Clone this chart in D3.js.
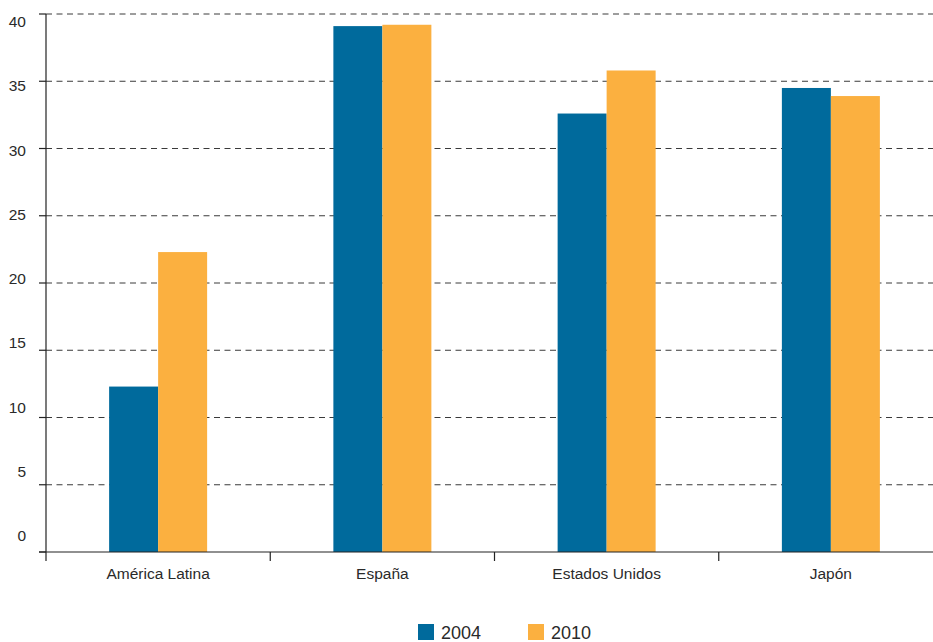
<!DOCTYPE html>
<html>
<head>
<meta charset="utf-8">
<script src="https://cdn.jsdelivr.net/npm/d3@7"></script>
<style>
  html, body { margin: 0; padding: 0; background: #fff; }
  svg { display: block; }
  text { font-family: "Liberation Sans", Arial, sans-serif; fill: #2a2a2a; }
</style>
</head>
<body>
<svg id="chart" width="933" height="642"></svg>
<script>
const categories = ["América Latina", "España", "Estados Unidos", "Japón"];
const seriesNames = ["2004", "2010"];
const values2004 = [12.3, 39.1, 32.6, 34.5];
const values2010 = [22.3, 39.2, 35.8, 33.9];
const yTicks = [0, 5, 10, 15, 20, 25, 30, 35, 40];
const colors = ["#006a9c", "#fbb040"];

const svg = d3.select("#chart");
const mLeft = 46, mRight = 943, mTop = 14, mBottom = 552;

const y = d3.scaleLinear().domain([0, 40]).range([mBottom, mTop]);
const yLabel = d3.scaleLinear().domain([0, 40]).range([541, 27]);
const x0 = d3.scaleBand().domain(categories).range([mLeft, mRight]).padding(0);
const groupW = 98;
const x1 = d3.scaleBand().domain(seriesNames).range([0, groupW]).padding(0);

// gridlines
svg.append("g").selectAll("line").data(yTicks.filter(d => d > 0)).join("line")
  .attr("x1", mLeft).attr("x2", mRight)
  .attr("y1", d => y(d)).attr("y2", d => y(d))
  .attr("stroke", "#3a3a3a").attr("stroke-width", 1)
  .attr("stroke-dasharray", "6,4.5");

// bars
const data = categories.map((c, i) => ({ c, vals: [values2004[i], values2010[i]] }));
const groups = svg.append("g").selectAll("g").data(data).join("g")
  .attr("transform", d => `translate(${x0(d.c) + (x0.bandwidth() - groupW) / 2},0)`);
groups.selectAll("rect").data(d => d.vals.map((v, j) => ({ s: seriesNames[j], v, j })))
  .join("rect")
  .attr("x", d => x1(d.s))
  .attr("width", x1.bandwidth())
  .attr("y", d => y(d.v))
  .attr("height", d => y(0) - y(d.v))
  .attr("fill", d => colors[d.j]);

// y axis
svg.append("line").attr("x1", mLeft).attr("x2", mLeft).attr("y1", mTop).attr("y2", mBottom + 9)
  .attr("stroke", "#222").attr("stroke-width", 1.2);
svg.append("g").selectAll("line").data(yTicks).join("line")
  .attr("x1", mLeft - 7).attr("x2", mLeft)
  .attr("y1", d => y(d)).attr("y2", d => y(d))
  .attr("stroke", "#222").attr("stroke-width", 1.2);
svg.append("g").selectAll("text").data(yTicks).join("text")
  .attr("x", 26).attr("y", d => yLabel(d))
  .attr("text-anchor", "end")
  .attr("font-size", 15.5)
  .text(d => d);

// x axis
svg.append("line").attr("x1", mLeft - 7).attr("x2", mRight).attr("y1", mBottom).attr("y2", mBottom)
  .attr("stroke", "#222").attr("stroke-width", 1.2);
svg.append("g").selectAll("line").data(categories.slice(1)).join("line")
  .attr("x1", d => x0(d)).attr("x2", d => x0(d))
  .attr("y1", mBottom).attr("y2", mBottom + 9)
  .attr("stroke", "#222").attr("stroke-width", 1.2);
svg.append("g").selectAll("text").data(categories).join("text")
  .attr("x", d => x0(d) + x0.bandwidth() / 2)
  .attr("y", 579)
  .attr("text-anchor", "middle")
  .attr("font-size", 15.5)
  .text(d => d);

// legend
const legendX = [418, 528];
const lg = svg.append("g").selectAll("g").data(seriesNames).join("g")
  .attr("transform", (d, i) => `translate(${legendX[i]},624)`);
lg.append("rect").attr("width", 16).attr("height", 16).attr("fill", (d, i) => colors[i]);
lg.append("text").attr("x", 23).attr("y", 14.5).attr("font-size", 18).text(d => d);
</script>
</body>
</html>
